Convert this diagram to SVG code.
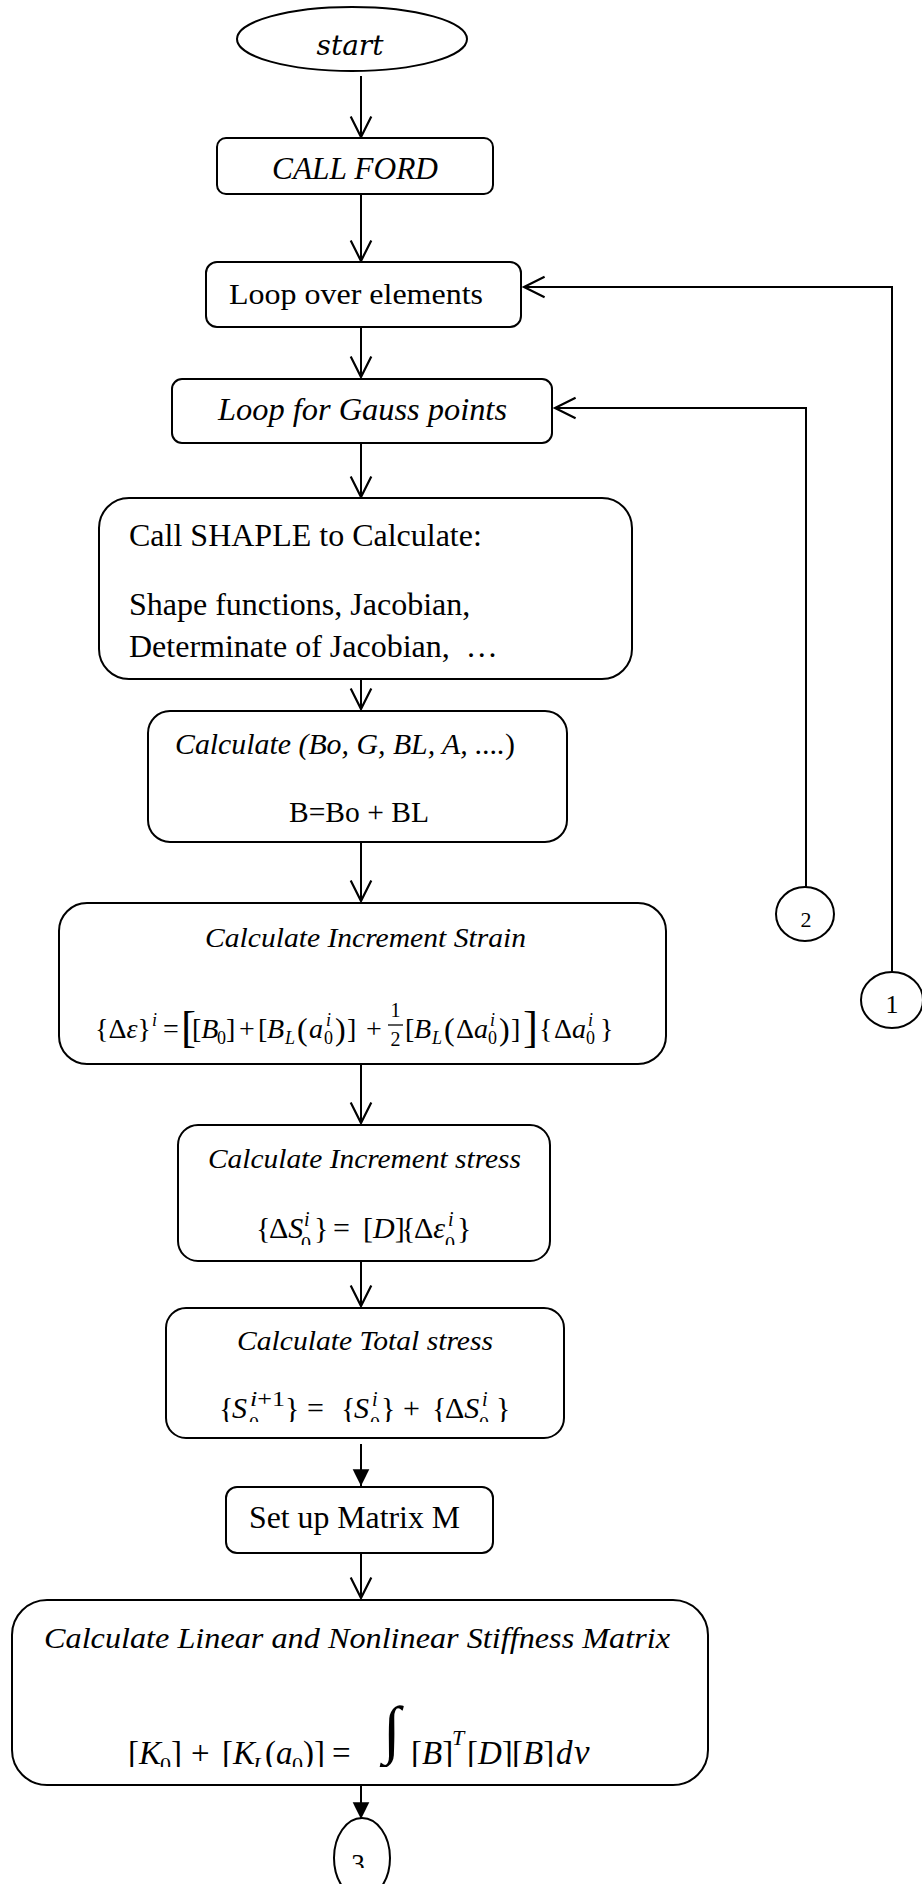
<svg xmlns="http://www.w3.org/2000/svg" width="922" height="1884" viewBox="0 0 922 1884">
<defs>
<style>
.box{fill:#fff;stroke:#000;stroke-width:2}
.ln{fill:none;stroke:#000;stroke-width:2}
.tx{font-family:"Liberation Serif","Times New Roman",serif;fill:#000}
.it{font-style:italic}
.up{font-style:normal}
.mt{font-family:"Liberation Serif","Times New Roman",serif;fill:#000}
.st{font-family:"DejaVu Serif",serif;font-style:italic;fill:#000}
</style>
<marker id="open" markerUnits="userSpaceOnUse" markerWidth="26" markerHeight="26" viewBox="-22 -12 24 24" refX="0" refY="0" orient="auto" overflow="visible">
<path d="M-19,-9.5 L0,0 L-19,9.5" fill="none" stroke="#000" stroke-width="2"/>
</marker>
<marker id="solid" markerUnits="userSpaceOnUse" markerWidth="20" markerHeight="20" viewBox="-17 -9 18 18" refX="0" refY="0" orient="auto" overflow="visible">
<path d="M-15,-7.5 L0,0 L-15,7.5Z" fill="#000"/>
</marker>
<clipPath id="cutInc"><rect x="0" y="1150" width="922" height="95"/></clipPath>
<clipPath id="cutTot"><rect x="0" y="1360" width="922" height="62"/></clipPath>
<clipPath id="cutBot"><rect x="0" y="1680" width="922" height="87"/></clipPath>
<clipPath id="cut3"><rect x="0" y="1820" width="922" height="48"/></clipPath>
</defs>

<rect x="0" y="0" width="922" height="1884" fill="#fff"/>

<!-- connectors -->
<g id="connectors" class="ln">
<path d="M361,76 V137" marker-end="url(#open)"/>
<path d="M361,194 V261" marker-end="url(#open)"/>
<path d="M361,327 V377" marker-end="url(#open)"/>
<path d="M361,443 V497" marker-end="url(#open)"/>
<path d="M361,679 V709" marker-end="url(#open)"/>
<path d="M361,842 V901" marker-end="url(#open)"/>
<path d="M361,1064 V1123" marker-end="url(#open)"/>
<path d="M361,1261 V1306" marker-end="url(#open)"/>
<path d="M361,1444 V1486" marker-end="url(#solid)"/>
<path d="M361,1553 V1598" marker-end="url(#open)"/>
<path d="M361,1785 V1819" marker-end="url(#solid)"/>
<path d="M806,887 V408 H555" marker-end="url(#open)"/>
<path d="M892,972 V287 H524" marker-end="url(#open)"/>
</g>

<!-- start terminal -->
<g id="start">
<ellipse class="box" cx="352" cy="39" rx="115" ry="32"/>
<text class="st" x="350" y="55" font-size="28" text-anchor="middle">start</text>
</g>

<g id="callford">
<rect class="box" x="217" y="138" width="276" height="56" rx="9"/>
<text class="tx it" x="272" y="179" font-size="31" textLength="166" lengthAdjust="spacingAndGlyphs">CALL FORD</text>
</g>

<g id="loop-elements">
<rect class="box" x="206" y="262" width="315" height="65" rx="11"/>
<text class="tx" x="229" y="304" font-size="30" textLength="254" lengthAdjust="spacingAndGlyphs">Loop over elements</text>
</g>

<g id="loop-gauss">
<rect class="box" x="172" y="379" width="380" height="64" rx="10"/>
<text class="tx it" x="218" y="420" font-size="31" textLength="289" lengthAdjust="spacingAndGlyphs">Loop for Gauss points</text>
</g>

<g id="shaple">
<rect class="box" x="99" y="498" width="533" height="181" rx="30"/>
<text class="tx" x="129" y="546" font-size="32">Call SHAPLE to Calculate:</text>
<text class="tx" x="129" y="615" font-size="32">Shape functions, Jacobian,</text>
<text class="tx" x="129" y="657" font-size="32" xml:space="preserve">Determinate of Jacobian,  …</text>
</g>

<g id="calc-b">
<rect class="box" x="148" y="711" width="419" height="131" rx="22"/>
<text class="tx it" x="175" y="754" font-size="29" textLength="340" lengthAdjust="spacingAndGlyphs">Calculate (Bo, G, BL, A, ....<tspan class="up">)</tspan></text>
<text class="tx" x="289" y="822" font-size="29" textLength="140" lengthAdjust="spacingAndGlyphs">B=Bo + BL</text>
</g>

<g id="strain">
<rect class="box" x="59" y="903" width="607" height="161" rx="28"/>
<text class="tx it" x="205" y="947" font-size="28" textLength="321" lengthAdjust="spacingAndGlyphs">Calculate Increment Strain</text>
<g class="mt" font-size="28">
<text x="95" y="1038">{Δ<tspan class="it">ε</tspan>}</text>
<text class="it" x="152" y="1026" font-size="18">i</text>
<text x="163" y="1038">=</text>
<text x="181" y="1042" font-size="45">[</text>
<text x="192" y="1038">[<tspan class="it">B</tspan></text>
<text x="217" y="1044" font-size="18">0</text>
<text x="226" y="1038">]</text>
<text x="239" y="1038">+</text>
<text x="258" y="1038">[</text>
<text class="it" x="267" y="1038">B</text>
<text class="it" x="285" y="1044" font-size="18">L</text>
<text x="297" y="1040" font-size="32">(</text>
<text class="it" x="309" y="1038">a</text>
<text class="it" x="326" y="1026" font-size="18">i</text>
<text x="324" y="1044" font-size="18">0</text>
<text x="335" y="1040" font-size="32">)</text>
<text x="347" y="1038">]</text>
<text x="366" y="1038">+</text>
<text x="395.5" y="1017" font-size="20" text-anchor="middle">1</text>
<line x1="388" y1="1025" x2="403" y2="1025" stroke="#000" stroke-width="1.3"/>
<text x="395.5" y="1046" font-size="20" text-anchor="middle">2</text>
<text x="405" y="1038">[</text>
<text class="it" x="414" y="1038">B</text>
<text class="it" x="432" y="1044" font-size="18">L</text>
<text x="444" y="1040" font-size="32">(</text>
<text x="456" y="1038">Δ<tspan class="it">a</tspan></text>
<text class="it" x="490" y="1026" font-size="18">i</text>
<text x="488" y="1044" font-size="18">0</text>
<text x="499" y="1040" font-size="32">)</text>
<text x="511" y="1038">]</text>
<text x="523" y="1042" font-size="45">]</text>
<text x="539" y="1038">{</text>
<text x="554" y="1038">Δ<tspan class="it">a</tspan></text>
<text class="it" x="588" y="1026" font-size="18">i</text>
<text x="586" y="1044" font-size="18">0</text>
<text x="600" y="1038">}</text>
</g>
</g>

<g id="inc-stress">
<rect class="box" x="178" y="1125" width="372" height="136" rx="20"/>
<text class="tx it" x="208" y="1168" font-size="28" textLength="313" lengthAdjust="spacingAndGlyphs">Calculate Increment stress</text>
<g class="mt" font-size="30" clip-path="url(#cutInc)">
<text x="256" y="1238">{</text>
<text x="269" y="1238">Δ<tspan class="it">S</tspan></text>
<text class="it" x="304" y="1226" font-size="20">i</text>
<text x="301" y="1251" font-size="20">0</text>
<text x="314" y="1238">}</text>
<text x="333" y="1238">=</text>
<text x="363" y="1238">[<tspan class="it">D</tspan>]</text>
<text x="401" y="1238">{</text>
<text x="414" y="1238">Δ<tspan class="it">ε</tspan></text>
<text class="it" x="448" y="1226" font-size="20">i</text>
<text x="445" y="1251" font-size="20">0</text>
<text x="457" y="1238">}</text>
</g>
</g>

<g id="total-stress">
<rect class="box" x="166" y="1308" width="398" height="130" rx="20"/>
<text class="tx it" x="237" y="1350" font-size="28" textLength="256" lengthAdjust="spacingAndGlyphs">Calculate Total stress</text>
<g class="mt" font-size="30" clip-path="url(#cutTot)">
<text x="219" y="1418">{</text>
<text class="it" x="232" y="1418">S</text>
<text x="250" y="1406" font-size="21" textLength="35" lengthAdjust="spacingAndGlyphs"><tspan class="it">i</tspan>+1</text>
<text x="249" y="1431" font-size="20">0</text>
<text x="285" y="1418">}</text>
<text x="307" y="1418">=</text>
<text x="341" y="1418">{</text>
<text class="it" x="354" y="1418">S</text>
<text class="it" x="372" y="1406" font-size="20">i</text>
<text x="370" y="1431" font-size="20">0</text>
<text x="381" y="1418">}</text>
<text x="403" y="1418">+</text>
<text x="432" y="1418">{</text>
<text x="445" y="1418">Δ<tspan class="it">S</tspan></text>
<text class="it" x="482" y="1406" font-size="20">i</text>
<text x="479" y="1431" font-size="20">0</text>
<text x="496" y="1418">}</text>
</g>
</g>

<g id="matrix-m">
<rect class="box" x="226" y="1487" width="267" height="66" rx="11"/>
<text class="tx" x="249" y="1528" font-size="31" textLength="211" lengthAdjust="spacingAndGlyphs">Set up Matrix M</text>
</g>

<g id="stiffness">
<rect class="box" x="12" y="1600" width="696" height="185" rx="35"/>
<text class="tx it" x="44" y="1648" font-size="30" textLength="626" lengthAdjust="spacingAndGlyphs">Calculate Linear and Nonlinear Stiffness Matrix</text>
<g class="mt" font-size="33" clip-path="url(#cutBot)">
<text x="128" y="1764">[<tspan class="it">K</tspan></text>
<text x="160" y="1772" font-size="22">0</text>
<text x="171" y="1764">]</text>
<text x="191" y="1764">+</text>
<text x="222" y="1764">[<tspan class="it">K</tspan></text>
<text class="it" x="253" y="1772" font-size="22">L</text>
<text x="265" y="1764">(<tspan class="it">a</tspan></text>
<text x="292" y="1772" font-size="22">0</text>
<text x="303" y="1764">)]</text>
<text x="332" y="1764">=</text>
<text x="383" y="1751" font-size="64">∫</text>
<text x="411" y="1764">[<tspan class="it">B</tspan>]</text>
<text class="it" x="452" y="1745" font-size="22">T</text>
<text x="467" y="1764">[<tspan class="it">D</tspan>]</text>
<text x="512" y="1764">[<tspan class="it">B</tspan>]</text>
<text class="it" x="556" y="1764">d</text>
<text class="it" x="574" y="1764" font-size="35">v</text>
</g>
</g>

<g id="conn-2">
<ellipse class="box" cx="805" cy="914" rx="29" ry="27"/>
<text class="tx" x="806" y="927" font-size="22" text-anchor="middle" fill="#555">2</text>
</g>

<g id="conn-1">
<ellipse class="box" cx="892" cy="1000" rx="31" ry="28"/>
<text class="tx" x="892" y="1013" font-size="26" text-anchor="middle">1</text>
</g>

<g id="conn-3">
<ellipse class="box" cx="362" cy="1858" rx="28" ry="40"/>
<text class="tx" x="358" y="1873" font-size="27" text-anchor="middle" clip-path="url(#cut3)">3</text>
</g>
</svg>
